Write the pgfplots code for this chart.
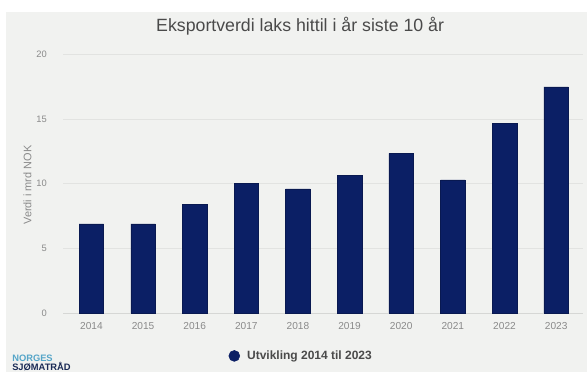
\documentclass[border=0pt]{standalone}
\usepackage{fontspec}
\setmainfont{Liberation Sans}
\usepackage{pgfplots}
\pgfplotsset{compat=1.18}
\definecolor{navy}{HTML}{0B1F65}
\definecolor{bgc}{HTML}{F1F2F0}
\definecolor{gridc}{HTML}{E2E3E1}
\definecolor{basec}{HTML}{D6D7D5}
\definecolor{tickc}{HTML}{8A8A8A}
\definecolor{titlec}{HTML}{4A4A4A}
\definecolor{legc}{HTML}{4A4A4A}
\definecolor{tealc}{HTML}{55A5C8}
\definecolor{logonavy}{HTML}{1A2A55}
\begin{document}
\begin{tikzpicture}
\path[use as bounding box] (0,0) rectangle (440.25pt,-279pt);
\clip (0,0) rectangle (440.25pt,-279pt);
\fill[white] (0,0) rectangle (440.25pt,-279pt);
\fill[bgc] (4.5pt,-9pt) rectangle (440.25pt,-279pt);
\begin{axis}[
  at={(47.25pt,-234.75pt)}, anchor=south west,
  scale only axis, width=390pt, height=193.9pt,
  xmin=-0.55, xmax=9.52, ymin=0, ymax=20,
  ytick={5,10,15,20},
  extra y ticks={0}, extra y tick labels={0},
  extra y tick style={grid style={color=basec, line width=0.7pt}},
  xtick={0,...,9},
  xticklabels={2014,2015,2016,2017,2018,2019,2020,2021,2022,2023},
  axis line style={draw=none},
  major tick length=0pt, tick style={draw=none},
  ymajorgrids, grid style={color=gridc, line width=0.6pt},
  /pgf/number format/assume math mode=true,
  xticklabel style={font=\fontsize{7.6}{9}\selectfont, text=tickc, anchor=north, inner sep=0pt, yshift=-6.5pt},
  yticklabel style={font=\fontsize{7}{8}\selectfont, text=tickc, anchor=east, inner sep=0pt, xshift=-12pt},
  title={Eksportverdi laks hittil i år siste 10 år},
  title style={font=\fontsize{13.3}{16}\selectfont, text=titlec, at={(0.456,1)}, anchor=base, yshift=10.9pt, inner sep=0pt},
  ylabel={Verdi i mrd NOK},
  ylabel style={font=\fontsize{8.2}{10}\selectfont, text=tickc, at={(axis description cs:-0.0683,0.495)}, anchor=center, inner sep=0pt},
  legend style={at={(0.459,-0.166)}, anchor=center, draw=none, fill=none, font=\bfseries\fontsize{9}{11}\selectfont, text=legc},
]
\addlegendimage{only marks, mark=*, mark size=4.1pt, mark options={fill=navy, draw=navy}}
\addlegendentry{\hspace{3.5pt}Utvikling 2014 til 2023}
\addplot[ybar, bar width=18.4pt, fill=navy, draw=navy!80!black, line width=0.4pt, forget plot]
  coordinates {(0,6.9) (1,6.9) (2,8.4) (3,10.05) (4,9.6) (5,10.65) (6,12.35) (7,10.3) (8,14.65) (9,17.5)};
\end{axis}
\node[anchor=base west, inner sep=0pt, font=\bfseries\fontsize{7}{7}\selectfont, text=tealc] at (9pt,-271.3pt) {NORGES};
\node[anchor=base west, inner sep=0pt, font=\bfseries\fontsize{7}{7}\selectfont, text=logonavy] at (9pt,-278.2pt) {SJØMATRÅD};
\end{tikzpicture}
\end{document}
